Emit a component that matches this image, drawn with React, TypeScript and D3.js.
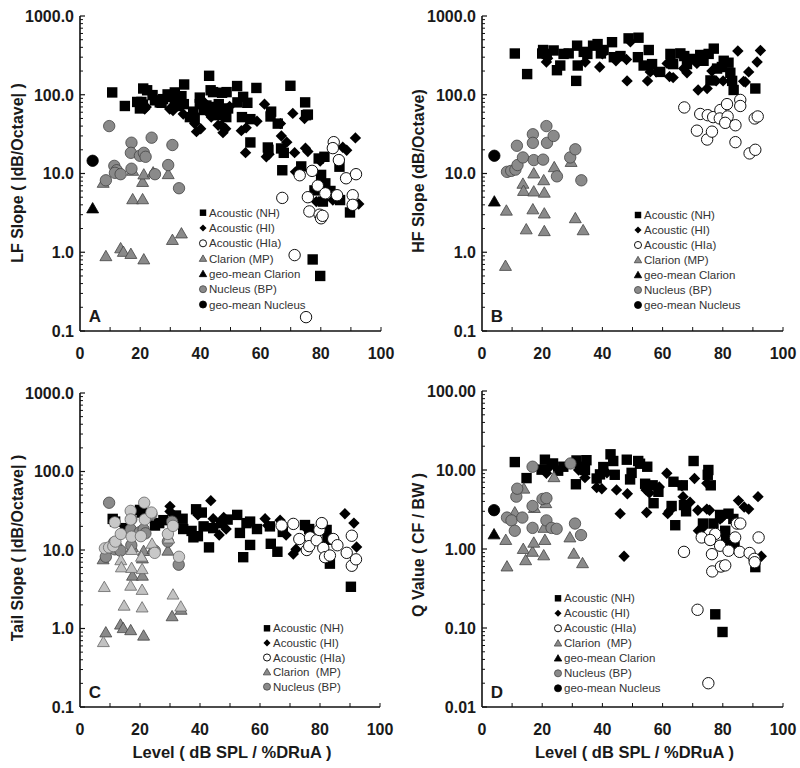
import React from "react";
import * as d3 from "d3";

type P = [number, number];

// ---------- Panel A: LF slope ----------
const aNH: P[] = [[10.7,107],[14.9,72],[19,81],[19.9,67],[20.4,81],[20.9,75],[21,120],[22.3,114],[24.1,99],[24.9,85],[26.5,80],[27.1,79],[27.6,88],[29.1,101],[30.9,94],[31.5,107],[31.5,81],[32.5,72],[33.7,96],[34.6,135],[34.5,76],[36.5,52],[37.6,61],[38.1,51],[39.8,92],[39.8,76],[41.1,64],[42,73],[42.9,174],[43.4,114],[44.2,108],[44.5,70],[46.1,76],[46.1,64],[45.5,55],[47.2,106],[48.7,108],[48.4,60],[48.6,52],[49.2,67],[52.2,129],[52.3,80],[53.8,52],[54.2,94],[55.6,79],[56.6,49],[56.6,24.8],[58.6,122],[63.3,53],[63.5,61],[62.4,21.4],[62.6,20],[65.7,43],[66.8,20.8],[67.7,18.3],[67.2,11],[69.9,130],[74.8,80],[75.1,55],[75.7,56],[73.5,12.3],[77.3,0.81],[79.8,0.5],[79.3,15.5],[80.1,9.6],[81.2,16.3],[81.5,7.5],[80.7,4.4],[83.2,6],[77.9,6.1],[86.2,12.2],[86.4,4.6],[89.7,3.2]];
const aHI: P[] = [[21,72],[21.5,66],[22,70],[29.8,66],[30.9,63],[34.3,57],[38.1,43],[38.7,34],[40.1,37],[41.4,79],[43,57],[43.6,52],[45.9,41],[47,41],[47.5,33],[48.4,37],[49.7,71],[53.6,35],[55.2,38],[55,18.4],[58.8,46],[61.3,76],[61.9,16.3],[62.8,17.5],[66.6,43],[66.9,30],[68.7,25],[70.7,58],[71.3,18.4],[74.6,50],[74.9,21],[75.7,19],[71.6,10.5],[78.5,4.4],[79.8,14.4],[84,4.6],[87.3,21.5],[88.6,19.7],[91.5,28.3],[92.6,4.1]];
const aHIa: P[] = [[67.2,4.9],[71.3,0.92],[75.1,0.15],[73,9.5],[77.1,10.8],[79,7],[75.7,5],[76.2,3.3],[79.6,3.0],[80.1,2.7],[80.6,2.9],[81.5,5.6],[84.3,25],[84,21],[86,14.8],[85.4,5.3],[88.4,8.7],[91.7,9.8],[90.6,5.3],[90.6,4]];
const aClarion: P[] = [[7.7,7.6],[8.6,0.89],[13.5,1.12],[14.4,1.01],[16.9,0.95],[17.5,4.7],[17.5,10.8],[20.8,4.7],[20.8,7.8],[21.2,0.81],[21.2,9.7],[24.3,10.3],[29.3,9.8],[30.7,1.43],[33.7,1.73]];
const aGeoClarion: P[] = [[4.2,3.6]];
const aNucleus: P[] = [[9.7,40],[8.6,8.2],[11.4,12.5],[12.2,11],[11.6,10.2],[13.5,9.8],[17.1,24.6],[16.9,18.3],[17.1,11.5],[19.9,16.8],[21.2,18.3],[21.8,16.3],[23.8,28.5],[24.9,9.8],[29.3,12.8],[30.7,23],[32.9,6.5]];
const aGeoNucleus: P[] = [[4.2,14.5]];

// ---------- Panel B: HF slope ----------
const bNH: P[] = [[10.9,334],[15,183],[20,334],[20.3,370],[21.5,330],[23.8,365],[24.9,205],[26,235],[27.1,330],[28.8,335],[31.3,150],[31.6,420],[31.8,235],[33.8,350],[35,330],[36.9,420],[38.4,440],[39.5,335],[40.4,370],[43.2,465],[43.8,300],[46,310],[48.7,520],[52,530],[51.8,300],[53.7,235],[55.4,370],[56.5,245],[59.2,195],[62.6,330],[63.5,245],[65.9,335],[67.2,310],[68.1,245],[70.3,285],[72.5,320],[73.6,270],[75.3,330],[77,385],[75.9,152],[78.1,215],[79.7,225],[80.3,270],[81.9,255],[82.5,190],[83.1,150],[83.6,115],[90.8,120]];
const bHI: P[] = [[21.4,260],[21.8,290],[34.3,260],[39.1,225],[40,330],[44.5,270],[48.2,150],[49.3,470],[48,280],[55,150],[55.9,195],[57.9,195],[61.5,250],[62.3,170],[63.5,165],[67,215],[68.1,190],[71.4,250],[71.8,115],[74.8,120],[76.4,200],[77.8,150],[80.1,150],[85,360],[86.9,148],[87.5,145],[88.6,195],[91.4,260],[92.5,365]];
const bHIa: P[] = [[67.2,69],[71.4,35],[72.5,57],[75,55],[74.8,27],[76.4,34],[76.8,52],[79.2,64],[79,50],[81.4,76],[81.6,53],[80.8,44],[84.2,41],[84.2,25],[85.8,86],[85.8,72],[90.6,50],[91.6,53],[88.9,18],[90.8,20]];
const bClarion: P[] = [[8.1,3.37],[7.8,0.67],[13.6,7.4],[13.8,6.0],[14.7,1.95],[17.2,10],[17.2,5.9],[16.9,3.5],[20.5,8.2],[20.7,5.7],[20.7,3.1],[20.7,1.85],[24,12],[29.6,14],[31,2.7],[33.6,1.9]];
const bGeoClarion: P[] = [[4.1,4.4]];
const bNucleus: P[] = [[8.3,10.5],[9.7,10.8],[11.1,11.2],[11.6,22.5],[11.8,12.8],[13.6,16],[16.9,31.5],[16.9,24.5],[17.2,14.8],[20.3,15],[21.4,40],[21.6,24.5],[23.8,30],[24.9,9.2],[29.3,16],[31,20.3],[33,8.2]];
const bGeoNucleus: P[] = [[4.1,16.8]];

// ---------- Panel C: tail slope ----------
const cNH: P[] = [[10.9,24.9],[11.7,23],[15,19],[20,32.4],[20.6,30],[25,20.5],[26.4,22],[27.8,24],[32,27.5],[34.2,25],[34.4,18.5],[37.2,17.5],[37.8,14.5],[38.7,33],[39.3,15],[40.6,30],[41.2,20],[43,10.8],[44.4,19],[47,22],[49.2,24.4],[52.4,28],[53.3,16.5],[54.4,8.1],[55.5,22],[56.7,23],[56.7,11.6],[59,18.5],[63.6,12],[63.3,20],[65.8,9.5],[67.6,17],[75,20.8],[76.4,18.5],[82.2,18],[83.3,6.7],[82.5,13.5],[90.3,3.4]];
const cHI: P[] = [[30,36],[30,31],[43.6,42.5],[44.4,25],[39.3,28],[46.4,15.5],[47.9,26],[48.7,18.5],[61.7,25],[62.6,20.5],[66.7,24],[68.7,15.5],[71.1,8.9],[72,10.2],[75.3,19],[88.3,29],[91.3,22],[92.2,10.9]];
const cHIa: P[] = [[67.2,20.5],[71.1,21.5],[73.1,13.8],[75.6,10],[76.7,14.5],[76.4,11.2],[78.9,13.3],[79.8,18],[80.6,22],[81.1,10.6],[81.7,8.1],[83.3,8.5],[84.4,13.8],[85.8,11.5],[88.9,9.2],[90.6,15.2],[90.6,6.3],[92,7.6]];
const cClarionLF: P[] = aClarion;
const cClarionHF: P[] = bClarion;
const cNucleusLF: P[] = aNucleus;
const cNucleusHF: P[] = bNucleus;

// ---------- Panel D: Q value ----------
const dNH: P[] = [[10.9,12.6],[14.8,7.9],[19.8,10.1],[20.9,13.5],[23.6,12.1],[25.3,9.8],[27,11],[31.4,13.2],[31.2,6.6],[32.6,11],[34.7,13.3],[34.2,10],[38.1,7.8],[39.2,8.8],[40.3,10.9],[42.7,15.8],[43.6,13],[44.1,8.7],[48.1,13.5],[49.7,9.2],[49.2,7.6],[51.9,13],[52.5,12],[54.9,11],[54.2,6.7],[56.7,6.4],[57,3.8],[58.6,5.3],[63.6,7.1],[63,3.5],[66.7,6.4],[67.1,3.6],[64.2,2.0],[67.8,3.0],[70.3,13],[75.2,10],[75,8.7],[76,6.4],[73.4,2.1],[76.9,2.1],[77.5,0.149],[79.9,0.089],[79.1,2.7],[80.8,1.7],[81.9,2.8],[81.1,1.3],[83.5,2.4],[83.9,1.1],[90.8,0.59]];
const dHI: P[] = [[21.4,9.1],[22,10.5],[32.1,10],[34.2,8],[38.1,6],[39.8,5.8],[41.5,9.2],[44.7,5.6],[45.9,2.8],[47.2,0.81],[48.3,5],[54.5,5.6],[54.7,2.9],[55.6,5.1],[58.9,6.1],[61.4,9.1],[61.7,2.8],[62.2,3],[66.4,6.3],[66.8,4.6],[69.1,3.9],[70.6,7.8],[71.7,3.1],[71.9,1.7],[74.7,3.2],[74.7,6.8],[75.6,3.1],[73,1.8],[79.1,2.4],[79.7,2.5],[85.2,4.1],[87.1,3.4],[88.6,3.2],[91.7,4.6],[92.8,0.81]];
const dHIa: P[] = [[67.1,0.92],[71.6,0.17],[75.2,0.02],[73,1.4],[76.4,0.86],[76.5,0.52],[77.5,1.55],[75.8,1.3],[79.4,0.6],[80.8,0.62],[79.1,1.1],[81.9,0.95],[84.1,1.4],[84.7,2.1],[85.8,2.1],[85.6,0.92],[88.9,0.89],[90.5,0.75],[90.6,0.68],[91.9,1.4]];
const dClarion: P[] = [[8.3,0.6],[7.9,1.3],[10.9,2.9],[13.7,1.0],[13.9,5.8],[14.5,0.72],[16.8,0.92],[17.2,1.2],[17.4,3.3],[20.5,0.83],[20.6,1.85],[20.9,1.3],[21.2,3.8],[23.9,8.1],[29.2,1.4],[30.5,0.87],[33.4,0.66]];
const dGeoClarion: P[] = [[4,1.53]];
const dNucleus: P[] = [[8.3,2.5],[9.8,2.3],[10.9,1.7],[11.4,4.6],[11.7,5.8],[13.4,2.5],[16.8,11],[16.8,3.5],[16.8,1.85],[20.1,4.3],[21.4,4.4],[21.4,2.3],[23.1,1.85],[24.8,1.8],[29.4,12.1],[30.9,2.1],[32.9,1.5]];
const dGeoNucleus: P[] = [[4,3.1]];

const xTicks = [0, 20, 40, 60, 80, 100];
const yTicksSlope = ["0.1", "1.0", "10.0", "100.0", "1000.0"];
const yTicksQ = ["0.01", "0.10", "1.00", "10.00", "100.00"];

const labelNH = "Acoustic (NH)";
const labelHI = "Acoustic (HI)";
const labelHIa = "Acoustic (HIa)";
const labelGeoClarion = "geo-mean Clarion";
const labelGeoNucleus = "geo-mean Nucleus";

type Kind = "square" | "diamond" | "open" | "tri" | "circle";
type Style = { kind: Kind; fill: string; stroke: string };
const S_NH: Style = { kind: "square", fill: "#000", stroke: "#000" };
const S_HI: Style = { kind: "diamond", fill: "#000", stroke: "#000" };
const S_HIa: Style = { kind: "open", fill: "#fff", stroke: "#111" };
const S_CL: Style = { kind: "tri", fill: "#8a8a8a", stroke: "#444" };
const S_CL_L: Style = { kind: "tri", fill: "#c2c2c2", stroke: "#666" };
const S_GCL: Style = { kind: "tri", fill: "#000", stroke: "#000" };
const S_NU: Style = { kind: "circle", fill: "#8a8a8a", stroke: "#444" };
const S_NU_L: Style = { kind: "circle", fill: "#c8c8c8", stroke: "#666" };
const S_GNU: Style = { kind: "circle", fill: "#000", stroke: "#000" };

const FONT = "'Liberation Sans', Arial, sans-serif";

function Marker({ s, x, y, scale = 1 }: { s: Style; x: number; y: number; scale?: number }) {
  const k = scale;
  if (s.kind === "square") {
    const h = 5.2 * k;
    return <rect x={x - h} y={y - h} width={2 * h} height={2 * h} fill={s.fill} />;
  }
  if (s.kind === "diamond") {
    const h = 5.7 * k;
    return <path d={`M${x},${y - h}L${x + h},${y}L${x},${y + h}L${x - h},${y}Z`} fill={s.fill} />;
  }
  if (s.kind === "tri") {
    const p = d3.symbol().type(d3.symbolTriangle).size(62 * k * k)()!;
    return <path d={p} transform={`translate(${x},${y + 1 * k})`} fill={s.fill} stroke={s.stroke} strokeWidth={0.8} />;
  }
  const r = 5.7 * k;
  return <circle cx={x} cy={y} r={r} fill={s.fill} stroke={s.stroke} strokeWidth={s.kind === "open" ? 1 : 0.8} />;
}

type Series = { data: P[]; style: Style };
type LegendItem = { label: string; style: Style };

type PanelProps = {
  x0: number; x1: number; yTop: number; yBot: number;
  yMin: number; yMax: number; yLabels: string[];
  yTitle: string; titleX: number; titleY: number;
  letter: string; series: Series[];
  legend: LegendItem[]; legX: number; legY: number; legStep: number;
  xTitle?: boolean;
};

function Panel(p: PanelProps) {
  const x = d3.scaleLinear().domain([0, 100]).range([p.x0, p.x1]);
  const y = d3.scaleLog().domain([p.yMin, p.yMax]).range([p.yBot, p.yTop]);
  const decades: number[] = [];
  for (let e = Math.round(Math.log10(p.yMin)); e <= Math.round(Math.log10(p.yMax)); e++) decades.push(Math.pow(10, e));
  const minor: number[] = [];
  decades.slice(0, -1).forEach((d) => { for (let m = 2; m <= 9; m++) minor.push(d * m); });
  const xMinor = d3.range(10, 100, 10);
  const cx = (p.x0 + p.x1) / 2;
  return (
    <g>
      {p.series.map((s, si) => (
        <g key={"s" + si}>
          {s.data.map((d, i) => (
            <Marker key={i} s={s.style} x={x(d[0])} y={y(d[1])} />
          ))}
        </g>
      ))}
      <line x1={p.x0} x2={p.x0} y1={p.yTop} y2={p.yBot} stroke="#111" strokeWidth={1.6} />
      <line x1={p.x0} x2={p.x1} y1={p.yBot} y2={p.yBot} stroke="#111" strokeWidth={1.6} />
      {decades.map((d, i) => (
        <g key={"d" + i}>
          <line x1={p.x0} x2={p.x0 + 5} y1={y(d)} y2={y(d)} stroke="#111" strokeWidth={1.2} />
          <text x={p.x0 - 6} y={y(d)} dy="0.36em" textAnchor="end" fontFamily={FONT} fontWeight="bold" fontSize={16} fill="#1a1a1a">{p.yLabels[i]}</text>
        </g>
      ))}
      {minor.map((d, i) => (
        <line key={"m" + i} x1={p.x0} x2={p.x0 + 3} y1={y(d)} y2={y(d)} stroke="#111" strokeWidth={1} />
      ))}
      {xMinor.concat([100]).map((v) => (
        <line key={"xt" + v} x1={x(v)} x2={x(v)} y1={p.yBot} y2={p.yBot - 4} stroke="#111" strokeWidth={1} />
      ))}
      {xTicks.map((v) => (
        <text key={"xl" + v} x={x(v)} y={p.yBot + 28} textAnchor="middle" fontFamily={FONT} fontWeight="bold" fontSize={16} fill="#1a1a1a">{v}</text>
      ))}
      <text transform={`translate(${p.titleX},${p.titleY}) rotate(-90)`} textAnchor="middle" dominantBaseline="central" fontFamily={FONT} fontWeight="bold" fontSize={16} fill="#1a1a1a">{p.yTitle}</text>
      {p.xTitle && (
        <text x={cx + 2} y={p.yBot + 51} textAnchor="middle" fontFamily={FONT} fontWeight="bold" fontSize={16.5} fill="#1a1a1a" style={{ whiteSpace: "pre" }}>{"Level ( dB SPL / %DRuA )"}</text>
      )}
      <text x={p.x0 + 15} y={p.yBot - 9} textAnchor="middle" fontFamily={FONT} fontWeight="bold" fontSize={17} fill="#1a1a1a">{p.letter}</text>
      {p.legend.map((it, i) => (
        <g key={"lg" + i}>
          <Marker s={it.style} x={p.legX} y={p.legY + i * p.legStep} scale={0.62} />
          <text x={p.legX + 6} y={p.legY + i * p.legStep} dy="0.36em" fontFamily={FONT} fontSize={11.5} fill="#333" style={{ whiteSpace: "pre" }}>{it.label}</text>
        </g>
      ))}
    </g>
  );
}

const legendFull = (clarionLabel: string): LegendItem[] => [
  { label: labelNH, style: S_NH },
  { label: labelHI, style: S_HI },
  { label: labelHIa, style: S_HIa },
  { label: clarionLabel, style: S_CL },
  { label: labelGeoClarion, style: S_GCL },
  { label: "Nucleus (BP)", style: S_NU },
  { label: labelGeoNucleus, style: S_GNU },
];

export default function App() {
  return (
    <svg width={800} height={768} style={{ position: "absolute", left: 0, top: 0, background: "#fff" }}>
      <rect width={800} height={768} fill="#fff" />
      <Panel x0={80} x1={381} yTop={16} yBot={331} yMin={0.1} yMax={1000} yLabels={yTicksSlope}
        yTitle="LF Slope ( |dB/Octave| )" titleX={17} titleY={173} letter="A"
        series={[
          { data: aNH, style: S_NH }, { data: aHI, style: S_HI }, { data: aHIa, style: S_HIa },
          { data: aClarion, style: S_CL }, { data: aGeoClarion, style: S_GCL },
          { data: aNucleus, style: S_NU }, { data: aGeoNucleus, style: S_GNU },
        ]}
        legend={legendFull("Clarion (MP)")} legX={203} legY={212.7} legStep={15.3} />
      <Panel x0={482} x1={783} yTop={16} yBot={331} yMin={0.1} yMax={1000} yLabels={yTicksSlope}
        yTitle="HF Slope (dB/Octave)" titleX={418} titleY={171} letter="B"
        series={[
          { data: bNH, style: S_NH }, { data: bHI, style: S_HI }, { data: bHIa, style: S_HIa },
          { data: bClarion, style: S_CL }, { data: bGeoClarion, style: S_GCL },
          { data: bNucleus, style: S_NU }, { data: bGeoNucleus, style: S_GNU },
        ]}
        legend={legendFull("Clarion (MP)")} legX={638} legY={215} legStep={15} />
      <Panel x0={80} x1={380} yTop={393} yBot={707} yMin={0.1} yMax={1000} yLabels={yTicksSlope}
        yTitle="Tail Slope ( |dB/Octave| )" titleX={17} titleY={548} letter="C" xTitle
        series={[
          { data: cNH, style: S_NH }, { data: cHI, style: S_HI }, { data: cHIa, style: S_HIa },
          { data: cClarionLF, style: S_CL }, { data: cNucleusLF, style: S_NU },
          { data: cClarionHF, style: S_CL_L }, { data: cNucleusHF, style: S_NU_L },
        ]}
        legend={[
          { label: labelNH, style: S_NH }, { label: labelHI, style: S_HI }, { label: labelHIa, style: S_HIa },
          { label: "Clarion  (MP)", style: S_CL }, { label: "Nucleus (BP)", style: S_NU },
        ]} legX={267} legY={628.3} legStep={14.6} />
      <Panel x0={482} x1={783} yTop={391} yBot={707} yMin={0.01} yMax={100} yLabels={yTicksQ}
        yTitle="Q Value ( CF / BW )" titleX={418} titleY={545} letter="D" xTitle
        series={[
          { data: dNH, style: S_NH }, { data: dHI, style: S_HI }, { data: dHIa, style: S_HIa },
          { data: dClarion, style: S_CL }, { data: dGeoClarion, style: S_GCL },
          { data: dNucleus, style: S_NU }, { data: dGeoNucleus, style: S_GNU },
        ]}
        legend={legendFull("Clarion  (MP)")} legX={558} legY={598.3} legStep={15} />
    </svg>
  );
}
